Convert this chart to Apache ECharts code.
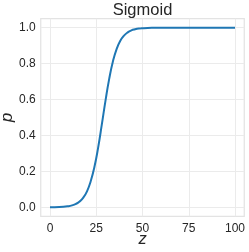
<!DOCTYPE html>
<html>
<head>
<meta charset="utf-8">
<script src="https://cdn.jsdelivr.net/npm/echarts@6/dist/echarts.min.js"></script>
<style>
html,body{margin:0;padding:0;background:#fff;}
#chart{width:249px;height:252px;}
</style>
</head>
<body>
<div id="chart"></div>
<script>
// Data
var zValues = [0, 5, 10, 12, 14, 16, 18, 20, 22, 24, 26, 28, 30, 32, 34, 36, 38, 40, 42, 44, 46, 48, 50, 55, 60, 70, 80, 90, 100];
var pValues = [0.0004, 0.0017, 0.0065, 0.011, 0.019, 0.032, 0.054, 0.089, 0.145, 0.224, 0.331, 0.46, 0.594, 0.715, 0.812, 0.881, 0.927, 0.956, 0.974, 0.985, 0.991, 0.995, 0.997, 0.9992, 0.9998, 1.0, 1.0, 1.0, 1.0];
var xTicks = [0, 25, 50, 75, 100];
var yTicks = [0.0, 0.2, 0.4, 0.6, 0.8, 1.0];
var titleText = 'Sigmoid';
var xName = 'z';
var yName = 'p';

var points = zValues.map(function (z, i) { return [z, pValues[i]]; });
var font = '"Liberation Sans", Arial, sans-serif';
var textColor = '#262626';

var chart = echarts.init(document.getElementById('chart'), null, {renderer: 'canvas'});
chart.setOption({
  animation: false,
  backgroundColor: '#ffffff',
  title: {
    text: titleText,
    left: 142.5,
    textAlign: 'center',
    top: 1.5,
    padding: 0,
    textStyle: {fontFamily: font, fontSize: 16.5, fontWeight: 'normal', color: textColor}
  },
  grid: {
    left: 40.75, right: 4.75, top: 18.7, bottom: 35.7,
    show: true, borderColor: '#e3e3e3', borderWidth: 1.25, backgroundColor: '#ffffff',
    containLabel: false,
    outerBoundsMode: 'none'
  },
  xAxis: {
    type: 'value',
    min: -5, max: 105,
    name: xName,
    nameLocation: 'middle',
    nameGap: 14.7,
    nameMoveOverlap: false,
    nameTextStyle: {fontFamily: font, fontSize: 16.5, fontStyle: 'italic', color: textColor},
    axisLine: {show: false},
    axisTick: {show: false, customValues: xTicks},
    axisLabel: {
      fontFamily: font, fontSize: 12, color: textColor, margin: 6,
      customValues: xTicks,
      formatter: function (v) { return String(v); }
    },
    splitLine: {show: true, customValues: xTicks, lineStyle: {color: '#ebebeb', width: 1}}
  },
  yAxis: {
    type: 'value',
    min: -0.05, max: 1.05,
    name: yName,
    nameLocation: 'middle',
    nameRotate: 90,
    nameGap: 24.5,
    nameMoveOverlap: false,
    nameTextStyle: {fontFamily: font, fontSize: 16.5, fontStyle: 'italic', color: textColor},
    axisLine: {show: false},
    axisTick: {show: false, customValues: yTicks},
    axisLabel: {
      fontFamily: font, fontSize: 12, color: textColor, margin: 5,
      customValues: yTicks,
      formatter: function (v) { return Number(v).toFixed(1); }
    },
    splitLine: {show: true, customValues: yTicks, lineStyle: {color: '#ebebeb', width: 1}}
  },
  series: [{
    type: 'line',
    data: points,
    smooth: true,
    showSymbol: false,
    lineStyle: {color: '#1f77b4', width: 2},
    itemStyle: {color: '#1f77b4'}
  }]
});
</script>
</body>
</html>
